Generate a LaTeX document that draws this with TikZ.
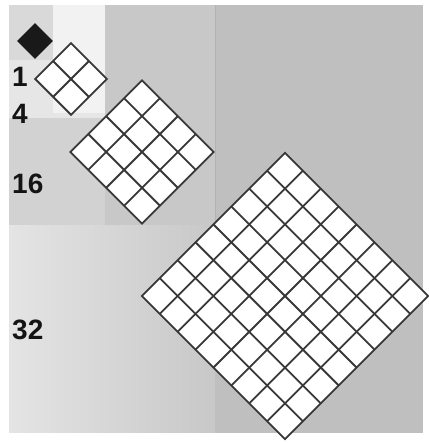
\documentclass[tikz,border=0pt]{standalone}
\usepackage{fontspec}
\setmainfont{Liberation Sans}
\definecolor{bgright}{HTML}{BFBFBF}
\definecolor{bgmid}{HTML}{C8C8C8}
\definecolor{bglow}{HTML}{E4E4E4}
\definecolor{bgside}{HTML}{D2D2D2}
\definecolor{bgtop}{HTML}{E6E6E6}
\definecolor{bgcorner}{HTML}{D9D9D9}
\definecolor{bgpale}{HTML}{F2F2F2}
\tikzset{
  cellline/.style={draw=black!78, line width=1.8pt, line join=miter},
  countlabel/.style={anchor=base west, inner sep=0pt, text=black!92,
    font=\fontsize{28}{28}\selectfont\bfseries},
}

\begin{document}
\begin{tikzpicture}[x=1pt,y=1pt]
  \useasboundingbox (0,0) rectangle (428,443);
  % backdrop panels
  \fill[white] (0,0) rectangle (428,443);
  \fill[bgright] (9,10) rectangle (423,438);
  \shade[left color=bglow, right color=bgmid] (9,10) rectangle (215,218);
  \fill[bgmid] (105,218) rectangle (215,438);
  \draw[black!30, line width=1pt] (215,218) -- (215,438);
  \fill[bgside] (9,218) rectangle (105,325);
  \fill[bgtop] (9,325) rectangle (105,438);
  \fill[bgcorner] (9,383) rectangle (53,438);
  \fill[bgpale] (53,330) rectangle (105,438);

  \def\cell{25.3}
  % single square
  \begin{scope}[shift={(35,402)},rotate=45]
    \fill[black!90] (-12.65,-12.65) rectangle (12.65,12.65);
  \end{scope}
  % grids
  \foreach \cx/\cy/\n in {71/364/2, 142/291/4, 285/147/8}{
    \begin{scope}[shift={(\cx,\cy)},rotate=45]
      \pgfmathsetmacro\h{\n*\cell/2}
      \pgfmathtruncatemacro\m{\n-1}
      \filldraw[cellline, fill=white] (-\h,-\h) rectangle (\h,\h);
      \foreach \k in {1,...,\m}{
        \draw[cellline] ({-\h+\k*\cell},-\h) -- ({-\h+\k*\cell},\h);
        \draw[cellline] (-\h,{-\h+\k*\cell}) -- (\h,{-\h+\k*\cell});
      }
    \end{scope}
  }

  % labels
  \node[countlabel] (n1) at (12,356.3) {1};
  \node[countlabel] (n4) at (12,319.7) {4};
  \node[countlabel] (n16) at (12,249.7) {16};
  \node[countlabel] (n32) at (12,103.7) {32};
\end{tikzpicture}
\end{document}
